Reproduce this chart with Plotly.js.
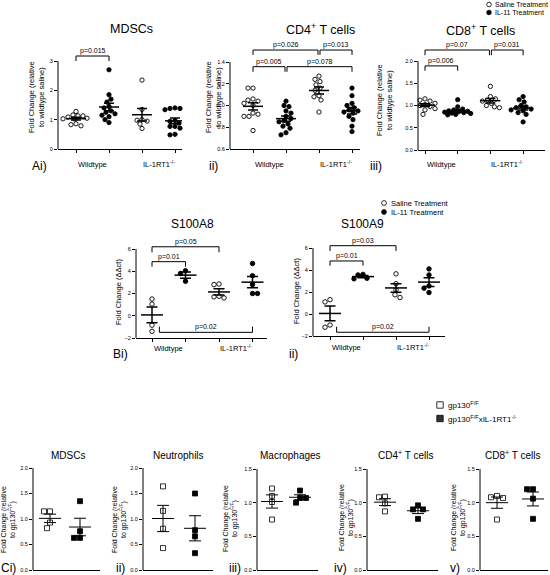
<!DOCTYPE html>
<html><head><meta charset="utf-8">
<script src="https://cdn.plot.ly/plotly-3.0.1.min.js"></script>
<style>html,body{margin:0;padding:0;background:#fff}#chart{width:550px;height:575px}</style>
</head><body><div id="chart"></div>
<script>
// ---------------- DATA ----------------
const groupLabels = ['Wildtype', 'IL-1RT1<sup>-/-</sup>'];
const treatmentLabels = ['Saline Treatment', 'IL-11 Treatment'];
const genotypeLabels = ['gp130<sup>F/F</sup>', 'gp130<sup>F/F</sup>xIL-1RT1<sup>-/-</sup>'];

// A i) MDSCs, fold change relative to wildtype saline
const mdscWtSaline = [1.28, 1.16, 1.13, 1.13, 1.09, 1.05, 1.03, 1.02, 0.86, 0.83, 0.79];
const mdscWtIL11   = [2.7, 1.85, 1.7, 1.6, 1.45, 1.4, 1.3, 1.25, 1.2, 1.15, 1.1, 1.0, 0.9];
const mdscKoSaline = [2.35, 1.35, 1.0, 0.98, 0.95, 0.85, 0.7];
const mdscKoIL11   = [1.4, 1.38, 1.38, 1.34, 0.97, 0.94, 0.88, 0.77, 0.77, 0.71, 0.5, 0.48];

// A ii) CD4+ T cells
const cd4WtSaline = [1.16, 1.16, 1.06, 1.05, 1.04, 1.02, 1.0, 0.93, 0.92, 0.9, 0.9, 0.77];
const cd4WtIL11   = [1.04, 1.0, 0.99, 0.95, 0.93, 0.9, 0.88, 0.86, 0.85, 0.83, 0.81, 0.79, 0.75, 0.73];
const cd4KoSaline = [1.27, 1.24, 1.22, 1.19, 1.16, 1.14, 1.09, 1.08, 1.05, 0.94];
const cd4KoIL11   = [1.16, 1.09, 1.02, 1.0, 0.98, 0.96, 0.95, 0.94, 0.93, 0.9, 0.87, 0.81, 0.76];

// A iii) CD8+ T cells
const cd8WtSaline = [1.15, 1.12, 1.1, 1.08, 1.05, 1.02, 1.0, 0.98, 0.96, 0.93, 0.9, 0.8];
const cd8WtIL11   = [1.13, 0.97, 0.92, 0.9, 0.88, 0.87, 0.86, 0.85, 0.84, 0.83, 0.82, 0.8, 0.79];
const cd8KoSaline = [1.43, 1.2, 1.15, 1.12, 1.1, 1.05, 1.0, 0.97, 0.95];
const cd8KoIL11   = [1.2, 1.13, 1.08, 1.0, 0.97, 0.95, 0.92, 0.9, 0.88, 0.84, 0.8, 0.63];

// B i) S100A8, fold change (ddCt)
const s100a8WtSaline = [1.5, 1.05, -0.85, -1.4];
const s100a8WtIL11   = [4.05, 3.8, 3.1];
const s100a8KoSaline = [2.85, 2.8, 1.75, 1.7, 1.6];
const s100a8KoIL11   = [4.7, 3.6, 2.8, 2.0, 2.0];

// B ii) S100A9
const s100a9WtSaline = [1.3, 1.1, -1.0, -1.2];
const s100a9WtIL11   = [3.6, 3.55, 3.25, 3.2];
const s100a9KoSaline = [3.65, 2.75, 2.2, 1.75, 1.5];
const s100a9KoIL11   = [4.1, 3.55, 2.55, 2.35, 1.95];

// C) fold change relative to gp130 F/F
const cMdscFF = [1.15, 1.15, 0.93, 0.82];   const cMdscKO = [1.35, 0.76, 0.63, 0.63];
const cNeutFF = [1.64, 1.16, 0.81, 0.43];   const cNeutKO = [1.5, 0.78, 0.66, 0.33];
const cMacFF  = [1.21, 1.1, 1.01, 0.75];    const cMacKO  = [1.18, 1.07, 1.07, 1.0];
const cCd4FF  = [1.09, 1.08, 0.99, 0.87];   const cCd4KO  = [0.96, 0.9, 0.9, 0.76];
const cCd8FF  = [1.1, 1.08, 1.07, 0.75];    const cCd8KO  = [1.2, 1.2, 1.06, 0.76];

// ---------------- LAYOUT ----------------
const W = 550, H = 575;
const FONT = 'Arial, "Liberation Sans", Helvetica, sans-serif';
const yTitleA = 'Fold Change (relative<br>to wildtype saline)';
const yTitleB = 'Fold Change (ΔΔct)';
const yTitleC = 'Fold Change (relative<br>to gp130<sup>F/F</sup>)';

const styles = {
  top: {msize: 4.3, mline: 0.9, d: 4.6, maxOff: 13, meanHalf: 10, capHalf: 5, lw: 1.5, tick: 5.5, ptext: 7, xticks: true},
  mid: {msize: 4.5, mline: 0.9, d: 5, maxOff: 12, meanHalf: 11, capHalf: 5.5, lw: 1.5, tick: 5.5, ptext: 7, xticks: true},
  bot: {msize: 5, mline: 0.8, d: 6, maxOff: 10, meanHalf: 11, capHalf: 6, lw: 1, tick: 5.5, ptext: 7, xticks: false}
};
const fourFill = [false, true, false, true];
const twoFill = [false, true];

const panels = [
  {n: 1, style: 'top', groups: [mdscWtSaline, mdscWtIL11, mdscKoSaline, mdscKoIL11], filled: fourFill, sym: 'circle',
   xl: 58, xr: 182, cat0: 76, sp: 33, yb: 149, ybVal: 0, ytk: 61, ytkVal: 3, yt: 44, tickvals: [0, 1, 2, 3], fmt: 'd',
   title: 'MDSCs', tx: 131, ty: 29, tsize: 12.5, label: 'Ai)', lx: 39, ly: 166, ytitle: yTitleA, yx: 37, yy: 97, ysize: 7.5, glY: 164,
   brackets: [{a: 0, b: 1, lvl: 3.17, leg: 3.0, text: 'p=0.015'}]},
  {n: 2, style: 'top', groups: [cd4WtSaline, cd4WtIL11, cd4KoSaline, cd4KoIL11], filled: fourFill, sym: 'circle',
   xl: 230, xr: 360, cat0: 253, sp: 33, yb: 149, ybVal: 0.6, ytk: 62, ytkVal: 1.4, yt: 38, tickvals: [0.6, 0.8, 1.0, 1.2, 1.4], fmt: '.1f',
   title: 'CD4<sup>+</sup> T cells', tx: 320, ty: 29, tsize: 12.5, label: 'ii)', lx: 213, ly: 166, ytitle: yTitleA, yx: 214, yy: 97, ysize: 7.5, glY: 164,
   brackets: [{a: 0, b: 1.97, lvl: 1.51, leg: 1.465, text: 'p=0.026'}, {a: 2.03, b: 3, lvl: 1.51, leg: 1.465, text: 'p=0.013'},
              {a: 0, b: 0.97, lvl: 1.357, leg: 1.31, text: 'p=0.005'}, {a: 1.03, b: 3, lvl: 1.357, leg: 1.31, text: 'p=0.078'}]},
  {n: 3, style: 'top', groups: [cd8WtSaline, cd8WtIL11, cd8KoSaline, cd8KoIL11], filled: fourFill, sym: 'circle',
   xl: 418, xr: 545, cat0: 425, sp: 32.7, yb: 150, ybVal: 0, ytk: 61, ytkVal: 2, yt: 38, tickvals: [0, 0.5, 1, 1.5, 2], fmt: '.1f',
   title: 'CD8<sup>+</sup> T cells', tx: 480, ty: 30, tsize: 12.5, label: 'iii)', lx: 376, ly: 166, ytitle: yTitleA, yx: 384, yy: 100, ysize: 7.5, glY: 164,
   brackets: [{a: 0, b: 1.97, lvl: 2.247, leg: 2.13, text: 'p=0.07'}, {a: 2.03, b: 3, lvl: 2.247, leg: 2.13, text: 'p=0.031'},
              {a: 0, b: 1, lvl: 1.89, leg: 1.78, text: 'p=0.006'}]},
  {n: 4, style: 'mid', groups: [s100a8WtSaline, s100a8WtIL11, s100a8KoSaline, s100a8KoIL11], filled: fourFill, sym: 'circle',
   xl: 136, xr: 267, cat0: 152, sp: 33.5, yb: 338, ybVal: -2, ytk: 249, ytkVal: 6, yt: 232, tickvals: [-2, 0, 2, 4, 6], fmt: 'd',
   title: 'S100A8', tx: 192, ty: 224, tsize: 12, label: 'Bi)', lx: 120, ly: 354, ytitle: yTitleB, yx: 118, yy: 292, ysize: 7.5, glY: 348,
   brackets: [{a: 0, b: 2, lvl: 6.2, leg: 5.7, text: 'p=0.05'}, {a: 0, b: 1, lvl: 4.86, leg: 4.41, text: 'p=0.01'},
              {a: 0.22, b: 3, lvl: -1.49, leg: -0.98, text: 'p=0.02'}]},
  {n: 5, style: 'mid', groups: [s100a9WtSaline, s100a9WtIL11, s100a9KoSaline, s100a9KoIL11], filled: fourFill, sym: 'circle',
   xl: 313, xr: 445, cat0: 330, sp: 33, yb: 336, ybVal: -2, ytk: 248, ytkVal: 6, yt: 232, tickvals: [-2, 0, 2, 4, 6], fmt: 'd',
   title: 'S100A9', tx: 362, ty: 224, tsize: 12, label: 'ii)', lx: 293, ly: 354, ytitle: yTitleB, yx: 296, yy: 291, ysize: 7.5, glY: 347,
   brackets: [{a: 0, b: 2, lvl: 6.21, leg: 5.73, text: 'p=0.03'}, {a: 0, b: 1, lvl: 4.82, leg: 4.39, text: 'p=0.01'},
              {a: 0.2, b: 3, lvl: -1.66, leg: -1.15, text: 'p=0.02'}]},
  {n: 6, style: 'bot', groups: [cMdscFF, cMdscKO], filled: twoFill, sym: 'square',
   xl: 33, xr: 100, cat0: 50, sp: 30, yb: 570, ybVal: 0, ytk: 468, ytkVal: 2, yt: 466, tickvals: [0, 0.5, 1, 1.5, 2], fmt: '.1f',
   title: 'MDSCs', tx: 68, ty: 455, tsize: 10, label: 'Ci)', lx: 8, ly: 568, ytitle: yTitleC, yx: 8, yy: 520, ysize: 7, brackets: []},
  {n: 7, style: 'bot', groups: [cNeutFF, cNeutKO], filled: twoFill, sym: 'square',
   xl: 143, xr: 213, cat0: 163, sp: 32, yb: 570, ybVal: 0, ytk: 468, ytkVal: 2, yt: 466, tickvals: [0, 0.5, 1, 1.5, 2], fmt: '.1f',
   title: 'Neutrophils', tx: 178, ty: 455, tsize: 10, label: 'ii)', lx: 120, ly: 568, ytitle: yTitleC, yx: 119, yy: 520, ysize: 7, brackets: []},
  {n: 8, style: 'bot', groups: [cMacFF, cMacKO], filled: twoFill, sym: 'square',
   xl: 257, xr: 318, cat0: 272, sp: 28, yb: 570, ybVal: 0, ytk: 469, ytkVal: 1.5, yt: 466, tickvals: [0, 0.5, 1, 1.5], fmt: '.1f',
   title: 'Macrophages', tx: 290, ty: 455, tsize: 10, label: 'iii)', lx: 235, ly: 568, ytitle: yTitleC, yx: 230, yy: 518, ysize: 7, brackets: []},
  {n: 9, style: 'bot', groups: [cCd4FF, cCd4KO], filled: twoFill, sym: 'square',
   xl: 367, xr: 438, cat0: 385, sp: 33, yb: 570, ybVal: 0, ytk: 469, ytkVal: 1.5, yt: 466, tickvals: [0, 0.5, 1, 1.5], fmt: '.1f',
   title: 'CD4<sup>+</sup> T cells', tx: 405, ty: 455, tsize: 10, label: 'iv)', lx: 340, ly: 568, ytitle: yTitleC, yx: 346, yy: 518, ysize: 7, brackets: []},
  {n: 10, style: 'bot', groups: [cCd8FF, cCd8KO], filled: twoFill, sym: 'square',
   xl: 480, xr: 548, cat0: 497, sp: 36, yb: 570, ybVal: 0, ytk: 469, ytkVal: 1.5, yt: 466, tickvals: [0, 0.5, 1, 1.5], fmt: '.1f',
   title: 'CD8<sup>+</sup> T cells', tx: 512, ty: 455, tsize: 10, label: 'v)', lx: 455, ly: 568, ytitle: yTitleC, yx: 458, yy: 518, ysize: 7, brackets: []}
];

const data = [], shapes = [], annotations = [];
const layout = {
  width: W, height: H, margin: {l: 0, r: 0, t: 0, b: 0},
  paper_bgcolor: '#fff', plot_bgcolor: 'rgba(0,0,0,0)', showlegend: false,
  font: {family: FONT, color: '#000', size: 7}, shapes, annotations
};

function paperAnn(text, x, y, size, extra) {
  annotations.push(Object.assign({
    text, x: x / W, y: 1 - y / H, xref: 'paper', yref: 'paper', showarrow: false,
    xanchor: 'center', yanchor: 'middle', font: {size, family: FONT, color: '#000'}
  }, extra || {}));
}

// simple beeswarm: horizontal pixel offsets computed from the values
function beeswarm(vals, pxY, maxOff, d) {
  const idx = vals.map((v, i) => i).sort((a, b) => vals[b] - vals[a]);
  const placed = [], off = new Array(vals.length).fill(0);
  idx.forEach((i, j) => {
    const y = vals[i] * pxY;
    const cands = [0];
    for (let k = 1; k <= maxOff; k++) { if (j % 2) cands.push(-k, k); else cands.push(k, -k); }
    let best = 0, bestScore = -1;
    for (const c of cands) {
      let minD = Infinity;
      for (const p of placed) minD = Math.min(minD, Math.hypot(p[0] - c, p[1] - y));
      if (minD >= d) { best = c; break; }
      if (minD > bestScore) { bestScore = minD; best = c; }
    }
    off[i] = best; placed.push([best, y]);
  });
  return off;
}

panels.forEach(P => {
  const S = styles[P.style];
  const sfx = P.n === 1 ? '' : String(P.n);
  const xr = 'x' + sfx, yr = 'y' + sfx;
  const pxY = (P.yb - P.ytk) / (P.ytkVal - P.ybVal);
  const yTop = P.ybVal + (P.yb - P.yt) / pxY;
  const cats = P.groups.map((g, i) => i);
  layout['xaxis' + sfx] = {
    domain: [P.xl / W, P.xr / W], range: [(P.xl - P.cat0) / P.sp, (P.xr - P.cat0) / P.sp], anchor: yr,
    showline: true, linecolor: '#000', linewidth: 1, ticks: S.xticks ? 'outside' : '', ticklen: 3, tickwidth: 1,
    tickcolor: '#000', tickvals: cats, showticklabels: false, showgrid: false, zeroline: false, fixedrange: true
  };
  layout['yaxis' + sfx] = {
    domain: [1 - P.yb / H, 1 - P.yt / H], range: [P.ybVal, yTop], anchor: xr,
    showline: false, ticks: 'outside', ticklen: 3, tickwidth: 1, tickcolor: '#000', tickvals: P.tickvals,
    tickformat: P.fmt, tickfont: {size: S.tick, family: FONT, color: '#000'}, showgrid: false, zeroline: false, fixedrange: true
  };
  // y axis line from bottom to top tick
  shapes.push({type: 'line', xref: xr + ' domain', yref: yr, x0: 0, x1: 0, y0: P.ybVal, y1: P.ytkVal,
               line: {color: '#000', width: 1}});

  P.groups.forEach((vals, c) => {
    const off = beeswarm(vals, pxY, S.maxOff, S.d);
    data.push({
      type: 'scatter', mode: 'markers', xaxis: xr, yaxis: yr, cliponaxis: false, hoverinfo: 'skip',
      x: vals.map((v, i) => c + off[i] / P.sp), y: vals,
      marker: {symbol: P.filled[c] ? P.sym : P.sym + '-open', size: S.msize, color: '#000', line: {color: '#000', width: S.mline}}
    });
  });
  P.groups.forEach((vals, c) => {
    const n = vals.length, m = vals.reduce((a, b) => a + b, 0) / n;
    const sd = Math.sqrt(vals.reduce((a, b) => a + (b - m) * (b - m), 0) / (n - 1));
    const sem = sd / Math.sqrt(n);
    data.push({type: 'scatter', mode: 'lines', xaxis: xr, yaxis: yr, hoverinfo: 'skip', cliponaxis: false,
      x: [c - S.meanHalf / P.sp, c + S.meanHalf / P.sp], y: [m, m], line: {color: '#000', width: S.lw}});
    data.push({type: 'scatter', mode: 'lines', xaxis: xr, yaxis: yr, hoverinfo: 'skip', cliponaxis: false,
      x: [c], y: [m], line: {color: '#000', width: S.lw},
      error_y: {type: 'data', array: [sem], visible: true, color: '#000', thickness: S.lw, width: S.capHalf}});
  });

  P.brackets.forEach(b => {
    shapes.push({type: 'path', xref: xr, yref: yr,
      path: `M${b.a},${b.leg} L${b.a},${b.lvl} L${b.b},${b.lvl} L${b.b},${b.leg}`,
      line: {color: '#000', width: 1}});
    annotations.push({text: b.text, x: (b.a + b.b) / 2, y: b.lvl, xref: xr, yref: yr, showarrow: false,
      xanchor: 'center', yanchor: 'bottom', borderpad: 0, font: {size: S.ptext, family: FONT, color: '#000'}});
  });

  if (P.glY) {
    [[0, 1], [2, 3]].forEach((pr, k) => {
      annotations.push({text: groupLabels[k], x: (pr[0] + pr[1]) / 2, y: 1 - P.glY / H, xref: xr, yref: 'paper',
        showarrow: false, xanchor: 'center', yanchor: 'middle', font: {size: 7.5, family: FONT, color: '#000'}});
    });
  }
  paperAnn(P.title, P.tx, P.ty, P.tsize);
  paperAnn(P.label, P.lx, P.ly, 12);
  paperAnn(P.ytitle, P.yx, P.yy, P.ysize, {textangle: -90});
});

// legends (markers as shapes, labels as text)
function legendMark(type, cx, cy, r, filled, fill) {
  shapes.push({type, xref: 'paper', yref: 'paper', x0: (cx - r) / W, x1: (cx + r) / W,
    y0: 1 - (cy + r) / H, y1: 1 - (cy - r) / H,
    line: {color: '#000', width: 0.8}, fillcolor: filled ? fill : '#fff'});
}
[[4.5, false], [12.5, true]].forEach((e, k) => {
  legendMark('circle', 489, e[0], 2.3, e[1], '#000');
  paperAnn(treatmentLabels[k], 493, e[0], 7, {xanchor: 'left'});
});
[[203, false], [212, true]].forEach((e, k) => {
  legendMark('circle', 384, e[0], 2.4, e[1], '#000');
  paperAnn(treatmentLabels[k], 388.5, e[0], 7.5, {xanchor: 'left'});
});
[[405, false], [418.5, true]].forEach((e, k) => {
  legendMark('rect', 440, e[0], 3.2, e[1], '#333');
  paperAnn(genotypeLabels[k], 446, e[0], 8, {xanchor: 'left'});
});

Plotly.newPlot('chart', data, layout, {staticPlot: true, displayModeBar: false});
</script>
</body></html>
